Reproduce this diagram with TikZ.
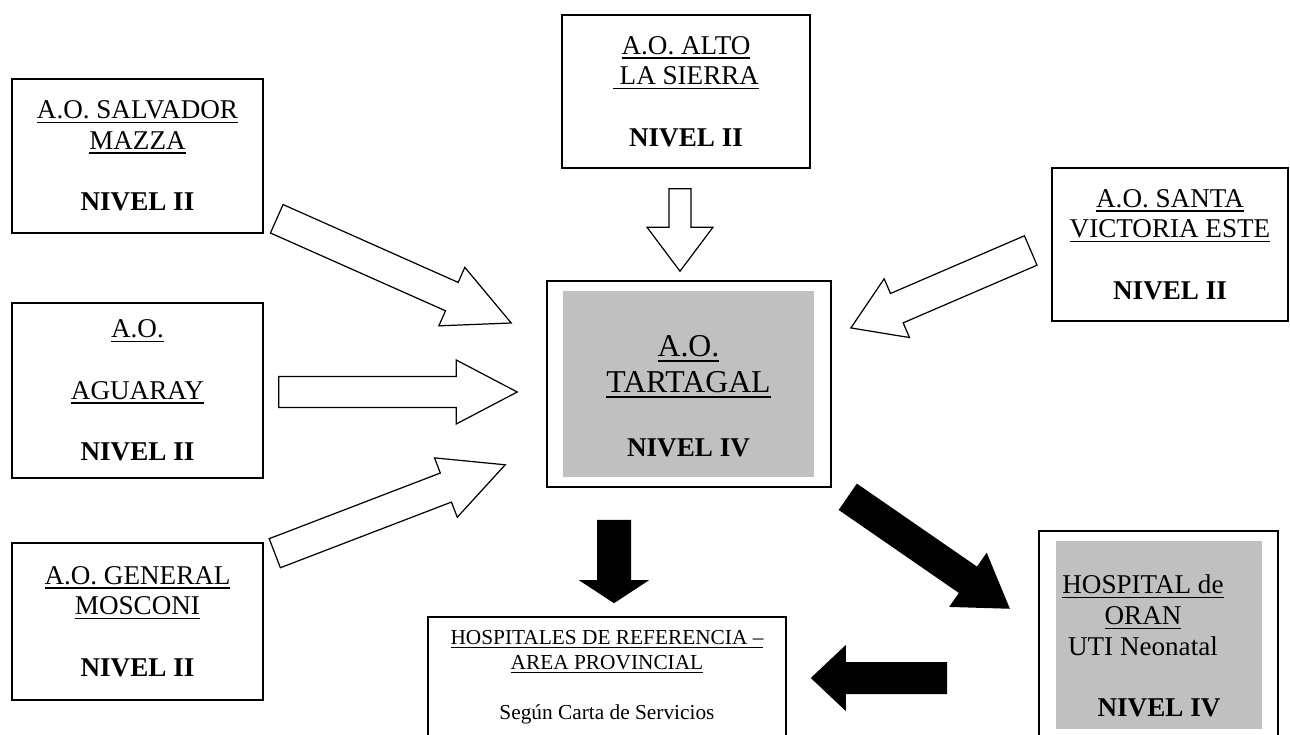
\documentclass[tikz,border=0pt]{standalone}
\usepackage{fontspec}
\setmainfont{Liberation Serif}
\usetikzlibrary{calc}
\definecolor{boxgray}{RGB}{192,192,192}
\newsavebox{\ulbox}
\newcommand{\uln}[1]{\sbox{\ulbox}{#1}\rlap{\rule[-0.16em]{\wd\ulbox}{0.05em}}\usebox{\ulbox}}
\newcommand{\padr}{\makebox[14.4pt]{}}
\tikzset{arrshaft/.store in=\arrshaft, arrhead/.store in=\arrhead, arrlen/.store in=\arrlen}
\newcommand{\blockarrow}[3][]{%
  \path[#1] let \p1=#2, \p2=#3, \n1={atan2(\y2-\y1,\x2-\x1)}, \n2={veclen(\x2-\x1,\y2-\y1)} in
    [shift={(\p1)}, rotate=\n1]
    (0pt,-\arrshaft) -- ({\n2-\arrlen},-\arrshaft) -- ({\n2-\arrlen},-\arrhead)
    -- ({\n2+0pt},0pt) -- ({\n2-\arrlen},\arrhead) -- ({\n2-\arrlen},\arrshaft)
    -- (0pt,\arrshaft) -- cycle;}

\begin{document}
\begin{tikzpicture}[x=0.45pt, y=-0.45pt,
    every node/.style={align=center, inner sep=0pt, font=\fontsize{12.2}{13.8}\selectfont},
    unitbox/.style={draw, line width=0.7pt, minimum width=112.95pt},
    outerbox/.style={draw, line width=0.7pt},
    graybox/.style={fill=boxgray},
    whitearrow/.style={draw, fill=white, line width=0.55pt},
    blackarrow/.style={fill=black}]
    \path[use as bounding box, fill=white] (0,0) rectangle (1290,735);
    \clip (0,0) rectangle (1290,735);

    \node[unitbox, minimum height=69.3pt] (salvador) at (137.5,156) {\uln{A.O. SALVADOR}\\\uln{MAZZA}\\[13.8pt]\textbf{NIVEL II}};
    \node[unitbox, minimum height=78.75pt] (aguaray) at (137.5,390.5) {\uln{A.O.}\\[13.8pt]\uln{AGUARAY}\\[13.8pt]\textbf{NIVEL II}};
    \node[unitbox, minimum height=70.65pt] (mosconi) at (137.5,621.5) {\uln{A.O. GENERAL}\\\uln{MOSCONI}\\[13.8pt]\textbf{NIVEL II}};
    \node[unitbox, minimum width=111.6pt, minimum height=68.85pt] (alto) at (686,91.5) {\uln{A.O. ALTO}\\\uln{\ LA SIERRA}\\[13.8pt]\textbf{NIVEL II}};
    \node[unitbox, minimum width=106.2pt, minimum height=68.85pt] (santa) at (1170,244.5) {\uln{A.O. SANTA}\\\uln{VICTORIA ESTE}\\[13.8pt]\textbf{NIVEL II}};

    \node[outerbox, minimum width=127.8pt, minimum height=92.7pt] (tartbox) at (689,384) {};
    \node[graybox, minimum width=112.95pt, minimum height=83.7pt, font=\fontsize{14.3}{16.2}\selectfont] (tartagal) at (688.5,384)
      {\mbox{}\\[4.5pt]\uln{A.O.}\\\uln{TARTAGAL}\\[12.6pt]{\fontsize{12.2}{13.8}\selectfont\bfseries NIVEL IV}};

    \node[outerbox, minimum width=161.1pt, minimum height=54pt, font=\fontsize{9.6}{11.25}\selectfont] (hospitales) at (607,677)
      {\uln{HOSPITALES DE REFERENCIA –}\\\uln{AREA PROVINCIAL}\\[11.25pt]Según Carta de Servicios};

    \node[outerbox, minimum width=107.55pt, minimum height=94.5pt] (oranbox) at (1158.5,636) {};
    \node[graybox, minimum width=92.7pt, minimum height=84.6pt] (oran) at (1159,635)
      {\mbox{}\\[4.65pt]\uln{HOSPITAL de}\padr\\\uln{ORAN}\padr\\UTI Neonatal\padr\\[13.8pt]\textbf{NIVEL IV}};

    \blockarrow[whitearrow, arrshaft=7pt, arrhead=14.4pt, arrlen=29.25pt]{($(salvador.south east)+(13,-15)$)}{($(tartbox.west)+(-35,-61)$)}
    \blockarrow[whitearrow, arrshaft=7pt, arrhead=14.4pt, arrlen=27.45pt]{($(aguaray.east)+(15,1.5)$)}{($(tartbox.west)+(-29,8)$)}
    \blockarrow[whitearrow, arrshaft=7pt, arrhead=14.3pt, arrlen=28.6pt]{($(mosconi.north east)+(11,11)$)}{($(tartbox.south west)+(-41,-23)$)}
    \blockarrow[whitearrow, arrshaft=4.95pt, arrhead=14.85pt, arrlen=19.8pt]{($(alto.south)+(-6,20)$)}{($(tartbox.north)+(-9,-9)$)}
    \blockarrow[whitearrow, arrshaft=7.2pt, arrhead=14.4pt, arrlen=22.5pt]{($(santa.west)+(-20.5,6)$)}{($(tartbox.east)+(19,-56)$)}
    \blockarrow[blackarrow, arrshaft=7.65pt, arrhead=15.75pt, arrlen=10.35pt]{($(tartbox.south)+(-75,32)$)}{($(hospitales.north)+(7,-13)$)}
    \blockarrow[blackarrow, arrshaft=7.2pt, arrhead=14.85pt, arrlen=22.95pt]{($(tartbox.south east)+(16,9)$)}{($(oranbox.west)+(-28,-27)$)}
    \blockarrow[blackarrow, arrshaft=7.2pt, arrhead=14.85pt, arrlen=15.75pt]{($(oranbox.west)+(-91,42)$)}{($(hospitales.east)+(24,1)$)}
\end{tikzpicture}
\end{document}
